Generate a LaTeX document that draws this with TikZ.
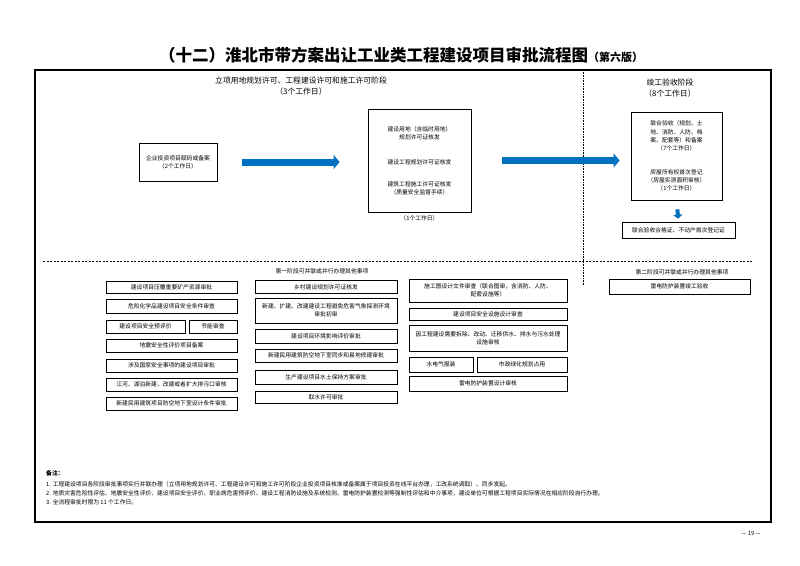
\documentclass[tikz,border=0pt]{standalone}
\usepackage{fontspec}
\setmainfont{Noto Sans CJK SC}
\usetikzlibrary{arrows.meta,positioning}
\definecolor{flowblue}{RGB}{0,112,192}

\begin{document}
\begin{tikzpicture}[x=1pt, y=-1pt]

  \tikzstyle{box}    = [draw, line width=0.6pt, inner sep=1pt, align=center, font=\fontsize{5.8pt}{8pt}\selectfont]
  \tikzstyle{bigbox} = [draw, line width=0.8pt, inner sep=1pt, align=center, font=\fontsize{5.8pt}{8.3pt}\selectfont]
  \tikzstyle{txt}    = [inner sep=0pt, align=center, font=\fontsize{5.8pt}{8pt}\selectfont]
  \tikzstyle{stage}  = [inner sep=0pt, align=center, font=\fontsize{7.8pt}{10.5pt}\selectfont]
  \tikzstyle{note}   = [inner sep=0pt, anchor=west, font=\fontsize{5.8pt}{8pt}\selectfont]
  \tikzstyle{flow}   = [flowblue, line width=7pt, -{Triangle[length=6pt,width=14pt]}]

  \useasboundingbox (0,0) rectangle (800,565);

  % ---- TITLE ----
  \node[inner sep=0pt, font=\bfseries\fontsize{16.5pt}{18pt}\selectfont] (title) at (401,55)
    {（十二）淮北市带方案出让工业类工程建设项目审批流程图{\fontsize{11pt}{12pt}\selectfont（第六版）}};

  % ---- FRAME ----
  \draw[line width=1.4pt] (35,70) rectangle (771,522);
  \draw[line width=2.2pt] (35,70) -- (771,70);
  \draw[densely dotted, line width=0.6pt] (583,70) -- (583,285);
  \draw[dash pattern=on 2pt off 1.5pt, line width=0.5pt] (43,261) -- (752,261);

  % ---- STAGE 1 ----
  \node[stage] (s1) at (301,86) {立项用地规划许可、工程建设许可和施工许可阶段\\（3个工作日）};
  \node[bigbox, minimum width=78, minimum height=38] (lb) at (178,162)
    {企业投资项目赋码或备案\\（2个工作日）};
  \node[bigbox, minimum width=103, minimum height=103] (mb) at (419.5,160.5)
    {建设用地（含临时用地）\\规划许可证核发\\[17pt]建设工程规划许可证核发\\[13pt]建筑工程施工许可证核发\\（质量安全监督手续）};
  \node[txt, below=3pt of mb] (mbc) {（1个工作日）};

  % ---- STAGE 2 ----
  \node[stage] (s2) at (670,88) {竣工验收阶段\\（8个工作日）};
  \node[bigbox, minimum width=91, minimum height=88] (rb) at (676.5,156)
    {联合验收（规划、土\\地、消防、人防、档\\案、配套等）和备案\\（7个工作日）\\[15pt]房屋所有权首次登记\\（房屋实测面积审核）\\（1个工作日）};
  \node[box, minimum width=113, minimum height=16] (fb) at (678.5,230)
    {联合验收合格证、不动产首次登记证};

  % ---- ARROWS ----
  \draw[flow, shorten <=25pt, shorten >=28pt] (lb.east) -- (lb.east -| mb.west);
  \draw[flow, shorten <=31pt, shorten >=11pt] (mb.east) -- (mb.east -| rb.west);
  \draw[flowblue, line width=4pt, -{Triangle[length=4pt,width=9pt]}, shorten <=9pt, shorten >=3pt]
    (rb.south) -- (fb.north);

  % ---- FIRST STAGE, PARALLEL ITEMS ----
  \node[txt] (h1) at (322,271) {第一阶段可并联或并行办理其他事项};

  % column 1
  \node[box, minimum width=131, minimum height=12] (c1) at (171.5,287)   {建设项目压覆重要矿产资源审批};
  \node[box, minimum width=131, minimum height=14] (c2) at (171.5,306)   {危险化学品建设项目安全条件审查};
  \node[box, minimum width=79,  minimum height=13] (c3) at (145.5,326.5) {建设项目安全预评价};
  \node[box, minimum width=48,  minimum height=13] (c4) at (213,326.5)   {节能审查};
  \node[box, minimum width=131, minimum height=13] (c5) at (171.5,345.5) {地震安全性评价项目备案};
  \node[box, minimum width=131, minimum height=13] (c6) at (171.5,365.5) {涉及国家安全事项的建设项目审批};
  \node[box, minimum width=131, minimum height=13] (c7) at (171.5,384.5) {江河、湖泊新建、改建或者扩大排污口审核};
  \node[box, minimum width=131, minimum height=13] (c8) at (171.5,403.5) {新建民用建筑项目防空地下室设计条件审批};

  % column 2
  \node[box, minimum width=142, minimum height=13] (d1) at (326,287)   {乡村建设规划许可证核发};
  \node[box, minimum width=142, minimum height=25] (d2) at (326,310.5) {新建、扩建、改建建设工程避免危害气象探测环境\\审批初审};
  \node[box, minimum width=142, minimum height=14] (d3) at (326,336)   {建设项目环境影响评价审批};
  \node[box, minimum width=142, minimum height=13] (d4) at (326,355.5) {新建民用建筑防空地下室同步和易地修建审批};
  \node[box, minimum width=142, minimum height=14] (d5) at (326,377)   {生产建设项目水土保持方案审批};
  \node[box, minimum width=142, minimum height=12] (d6) at (326,397)   {取水许可审批};

  % column 3
  \node[box, minimum width=158, minimum height=23] (e1) at (488,290.5) {施工图设计文件审查（联合图审，含消防、人防、\\配套设施等）};
  \node[box, minimum width=158, minimum height=12] (e2) at (488,314)   {建设项目安全设施设计审查};
  \node[box, minimum width=158, minimum height=26] (e3) at (488,338)   {因工程建设需要拆除、改动、迁移供水、排水与污水处理\\设施审核};
  \node[box, minimum width=64,  minimum height=15] (e4) at (441,364.5) {水电气报装};
  \node[box, minimum width=90,  minimum height=15] (e5) at (522,364.5) {市政绿化规划占用};
  \node[box, minimum width=158, minimum height=15] (e6) at (488,383.5) {雷电防护装置设计审核};

  % ---- SECOND STAGE, PARALLEL ITEMS ----
  \node[txt] (h2) at (682,272) {第二阶段可并联或并行办理其他事项};
  \node[box, minimum width=141, minimum height=15] (f1) at (679.5,286.5) {雷电防护装置竣工验收};

  % ---- NOTES ----
  \node[note, font=\bfseries\fontsize{5.8pt}{8pt}\selectfont] (n0) at (46,473) {备注：};
  \node[note] (n1) at (46,484) {1. 工程建设项目各阶段审批事项实行并联办理（立项用地规划许可、工程建设许可和施工许可阶段企业投资项目核准或备案属于项目投资在线平台办理，工改系统调取）、同步发起。};
  \node[note] (n2) at (46,493) {2. 地质灾害危险性评估、地震安全性评价、建设项目安全评价、职业病危害预评价、建设工程消防设施及系统检测、雷电防护装置检测等强制性评估和中介事项，建设单位可根据工程项目实际情况在相应阶段自行办理。};
  \node[note] (n3) at (46,502) {3. 全流程审批时限为 11 个工作日。};

  % ---- PAGE NUMBER ----
  \node[txt] (pg) at (751,533) {— 19 —};

\end{tikzpicture}
\end{document}
